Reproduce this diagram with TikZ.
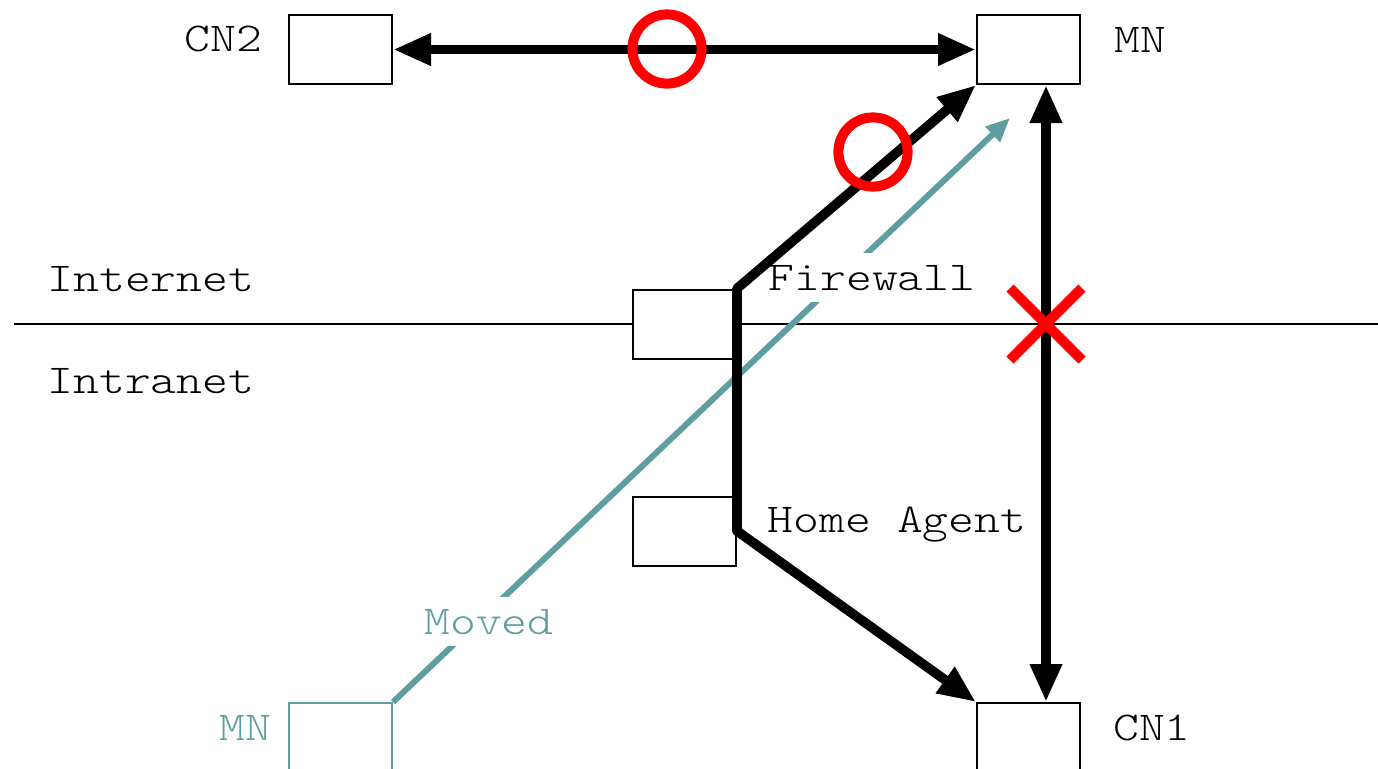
\documentclass[tikz,border=0pt]{standalone}
\usepackage{fontspec}
\setmainfont[FakeStretch=1.2]{Latin Modern Mono Light}
\usetikzlibrary{arrows.meta}
\definecolor{movedcol}{RGB}{95,158,160}
\begin{document}
\begin{tikzpicture}[x=0.5pt, y=-0.5pt,
    box/.style={draw, fill=white, line width=1pt, minimum width=51.5pt, minimum height=34.5pt, inner sep=0pt},
    lbl/.style={font=\fontsize{20.5}{25}\selectfont, inner sep=0pt, anchor=base},
    link/.style={line width=4.8pt, line join=round, {Triangle[length=19pt,width=15pt]}-{Triangle[length=19pt,width=15pt]}},
    redmark/.style={red, line width=5pt},
  ]
    \useasboundingbox (0,0) rectangle (1378,768);

    % border between Internet and Intranet
    \coordinate (west) at (14,324);
    \coordinate (east) at (1378,324);
    \draw[line width=1pt] (west) -- (east);
    \node[lbl] (inet) at (151,291) {Internet};
    \node[lbl] (intra) at (151,393) {Intranet};

    % boxes
    \node[box] (cn2) at (340.5,49.5) {};
    \node[box] (mn) at (1028.5,49.5) {};
    \node[box] (fw) at (684.5,324) {};
    \node[box] (ha) at (684.5,531) {};
    \node[box] (cn1) at (1028.5,737.5) {};
    \node[box, draw=movedcol] (mnold) at (340.5,737.5) {};

    % the move
    \coordinate (movetip) at (1010,118);
    \draw[movedcol, line width=3pt, -{Triangle[length=12pt,width=10pt]}] (mnold.north east) -- (movetip);

    \node[lbl] (cn2l) at (223.5,51) {CN2};
    \node[lbl] (mnl) at (1140,52) {MN};
    \node[lbl, fill=white, inner sep=6pt] (fwl) at (872,290) {Firewall};
    \node[lbl] (hal) at (897,532) {Home Agent};
    \node[lbl, fill=white, inner sep=6pt, text=movedcol] (movedl) at (489,634) {Moved};
    \node[lbl] (cn1l) at (1152,740) {CN1};
    \node[lbl, text=movedcol] (mnoldl) at (245,740) {MN};

    % paths
    \draw[link] (cn2.east) -- (mn.west);
    \draw[link] (mn.south west) -- (fw.north east) -- (ha.east) -- (cn1.north west);
    \draw[link] ([xshift=8.75pt]mn.south) -- ([xshift=8.75pt]cn1.north);

    % ok / blocked
    \coordinate (ok1) at (667,49);
    \coordinate (ok2) at (873,152);
    \coordinate (cut) at (1046,324);
    \draw[redmark] (ok1) circle[radius=17.3pt];
    \draw[redmark] (ok2) circle[radius=17.3pt];
    \draw[redmark] ([shift={(-36,-36)}]cut) -- ([shift={(36,36)}]cut)
                ([shift={(-36,36)}]cut) -- ([shift={(36,-36)}]cut);
\end{tikzpicture}
\end{document}
